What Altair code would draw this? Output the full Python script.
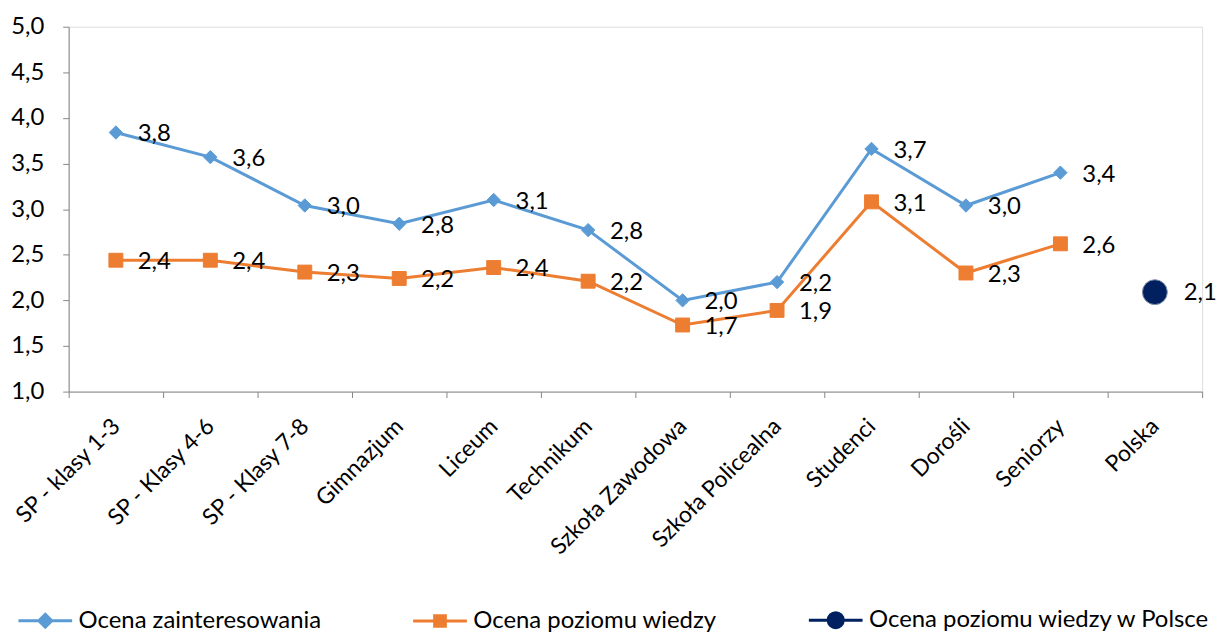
import altair as alt
import pandas as pd

categories = ["SP - klasy 1-3", "SP - Klasy 4-6", "SP - Klasy 7-8", "Gimnazjum", "Liceum",
              "Technikum", "Szkoła Zawodowa", "Szkoła Policealna", "Studenci", "Dorośli",
              "Seniorzy", "Polska"]
series_names = ["Ocena zainteresowania", "Ocena poziomu wiedzy", "Ocena poziomu wiedzy w Polsce"]
interest = [3.84, 3.57, 3.04, 2.84, 3.10, 2.77, 2.00, 2.20, 3.66, 3.04, 3.40]
knowledge = [2.44, 2.44, 2.31, 2.24, 2.36, 2.21, 1.73, 1.89, 3.08, 2.30, 2.62]
poland_category = ["Polska"]
poland = [2.09]
y_ticks = [1.0, 1.5, 2.0, 2.5, 3.0, 3.5, 4.0, 4.5, 5.0]

colors = ["#5B9BD5", "#ED7D31", "#002060"]
shapes = ["diamond", "square", "circle"]
sizes = [180, 196, 625]
legend_paths = [
    "M-1,0H1M0,-0.24L0.24,0L0,0.24L-0.24,0Z",
    "M-1,0H1M-0.2,-0.2H0.2V0.2H-0.2Z",
    "M-1,0H1M0.28,0A0.28,0.28,0,1,1,-0.28,0A0.28,0.28,0,1,1,0.28,0Z",
]

rows = []
for c, v in zip(categories, interest):
    rows.append({"kategoria": c, "seria": series_names[0], "wartosc": v})
for c, v in zip(categories, knowledge):
    rows.append({"kategoria": c, "seria": series_names[1], "wartosc": v})
for c, v in zip(poland_category, poland):
    rows.append({"kategoria": c, "seria": series_names[2], "wartosc": v})
df = pd.DataFrame(rows)

FONT = "Lato"
AXIS_GREY = "#868686"

x_enc = alt.X(
    "kategoria:N",
    sort=categories,
    scale=alt.Scale(type="band", domain=categories, paddingInner=0, paddingOuter=0),
    axis=alt.Axis(
        title=None, labelAngle=-45, labelAlign="right", labelBaseline="middle",
        labelFontSize=23, labelFont=FONT, labelColor="#000000", labelPadding=25,
        labelOverlap=False, labelLimit=400, labelBound=False, tickBand="extent", tickSize=6,
        tickColor=AXIS_GREY, domainColor=AXIS_GREY, grid=False,
    ),
)
y_enc = alt.Y(
    "wartosc:Q",
    scale=alt.Scale(domain=[1, 5], nice=False, zero=False),
    axis=alt.Axis(
        title=None, values=y_ticks,
        labelExpr="replace(format(datum.value, '.1f'), '.', ',')",
        labelFontSize=24, labelFont=FONT, labelColor="#000000", labelPadding=19,
        tickSize=6, tickColor=AXIS_GREY, domainColor=AXIS_GREY, grid=False,
    ),
)
color_scale = alt.Scale(domain=series_names, range=colors)

base = alt.Chart(df).encode(x=x_enc, y=y_enc)

lines = base.transform_filter(
    alt.FieldOneOfPredicate(field="seria", oneOf=series_names[:2])
).mark_line(strokeWidth=3).encode(
    color=alt.Color("seria:N", scale=color_scale, legend=None),
    detail="seria:N",
)

legend = alt.Legend(
    title=None, orient="none", legendX=-52, legendY=568,
    direction="horizontal", columns=3, columnPadding=86,
    labelFontSize=24, labelFont=FONT, labelColor="#000000", labelOffset=5,
    symbolSize=2916, symbolStrokeWidth=3, labelLimit=500, symbolOpacity=1,
)

# invisible layer that only carries the legend (line + marker symbols)
legend_layer = base.mark_point(filled=True, opacity=0, size=1).encode(
    color=alt.Color("seria:N", scale=color_scale, legend=legend),
    shape=alt.Shape("seria:N", scale=alt.Scale(domain=series_names, range=legend_paths),
                    legend=legend),
)

point_layers = []
for i, name in enumerate(series_names):
    point_layers.append(
        base.transform_filter(alt.FieldEqualPredicate(field="seria", equal=name))
        .mark_point(filled=True, opacity=1, shape=shapes[i], size=sizes[i],
                    stroke=colors[i] if i < 2 else "#7f8fa9", strokeWidth=1)
        .encode(color=alt.Color("seria:N", scale=color_scale, legend=None))
    )

label_calc = "replace(format(datum.wartosc, '.1f'), '.', ',')"
labels_main = base.transform_filter(
    alt.FieldOneOfPredicate(field="seria", oneOf=series_names[:2])
).transform_calculate(etykieta=label_calc).mark_text(
    align="left", baseline="middle", dx=22, dy=2, fontSize=24, font=FONT, color="#000000"
).encode(text="etykieta:N")

labels_pl = base.transform_filter(
    alt.FieldEqualPredicate(field="seria", equal=series_names[2])
).transform_calculate(etykieta=label_calc).mark_text(
    align="left", baseline="middle", dx=29, dy=1, fontSize=24, font=FONT, color="#000000"
).encode(text="etykieta:N")

chart = alt.layer(legend_layer, lines, *point_layers, labels_main, labels_pl).properties(
    width=1140, height=367,
    autosize=alt.AutoSizeParams(type="none"),
    padding={"left": 61, "top": 17, "right": 17, "bottom": 240},
).configure_view(stroke=None).configure(background="#ffffff")

chart.save("out.html", embed_options={"renderer": "svg", "actions": False})
